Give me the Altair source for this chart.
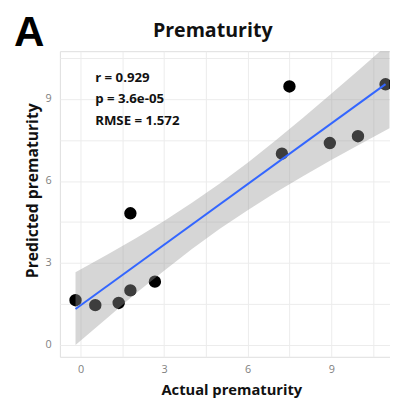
import altair as alt
import pandas as pd

# Data
actual = [-0.18, 0.53, 1.37, 1.79, 1.79, 2.67, 7.23, 7.50, 8.95, 9.96, 10.95]
predicted = [1.64, 1.46, 1.54, 2.00, 4.82, 2.32, 7.00, 9.46, 7.39, 7.64, 9.54]

band_x = [-0.18, 1, 2, 3, 4, 5, 6, 7, 8, 9, 10, 11.09]
band_lo = [0.00, 1.03, 1.90, 2.72, 3.51, 4.25, 4.93, 5.58, 6.18, 6.77, 7.33, 7.93]
band_hi = [2.66, 3.33, 3.92, 4.54, 5.21, 5.91, 6.67, 7.48, 8.32, 9.19, 10.07, 11.05]

stats_lines = ["r = 0.929", "p = 3.6e-05", "RMSE = 1.572"]
title_text = "Prematurity"
panel_letter = "A"
x_title = "Actual prematurity"
y_title = "Predicted prematurity"

pts = pd.DataFrame({"x": actual, "y": predicted})
band = pd.DataFrame({"x": band_x, "lo": band_lo, "hi": band_hi})

FONT = "Open Sans"
XDOM = [-0.74, 11.11]
YDOM = [-0.43, 10.75]
grid_vals = [0, 1.5, 3, 4.5, 6, 7.5, 9, 10.5]

xscale = alt.Scale(domain=XDOM, nice=False, zero=False)
yscale = alt.Scale(domain=YDOM, nice=False, zero=False)

xaxis = alt.Axis(
    values=grid_vals, labelExpr="datum.value % 3 == 0 ? datum.label : ''",
    grid=True, gridColor="#ececec", gridWidth=1, domain=False, ticks=False, tickSize=0,
    labelPadding=7, labelFontSize=11, labelColor="#808080", labelFont=FONT,
    title=x_title, titleFont=FONT, titleFontSize=15, titleFontWeight="bold", titleColor="#111111",
    titleX=175, titleY=33, titleBaseline="middle", titleAnchor="middle",
)
yaxis = alt.Axis(
    values=grid_vals, labelExpr="datum.value % 3 == 0 ? datum.label : ''",
    grid=True, gridColor="#ececec", gridWidth=1, domain=False, ticks=False, tickSize=0,
    labelPadding=9, labelFontSize=11, labelColor="#808080", labelFont=FONT,
    title=y_title, titleFont=FONT, titleFontSize=16, titleFontWeight="bold", titleColor="#111111",
    titleX=-28, titleY=142, titleBaseline="middle", titleAngle=270,
)

points = alt.Chart(pts).mark_circle(size=160, color="#000000", opacity=1).encode(
    x=alt.X("x:Q", scale=xscale, axis=xaxis),
    y=alt.Y("y:Q", scale=yscale, axis=yaxis),
)

ribbon = alt.Chart(band).mark_area(color="#999999", opacity=0.4, clip=True).encode(
    x=alt.X("x:Q", scale=xscale),
    y=alt.Y("lo:Q", scale=yscale),
    y2="hi:Q",
)

line = alt.Chart(pts).transform_regression(
    "x", "y", extent=[actual[0], actual[-1]]
).mark_line(color="#3366FF", strokeWidth=2).encode(
    x=alt.X("x:Q", scale=xscale),
    y=alt.Y("y:Q", scale=yscale),
)

stat_layers = []
for i, s in enumerate(stats_lines):
    stat_layers.append(
        alt.Chart(pd.DataFrame({"t": [s]})).mark_text(
            font=FONT, fontSize=13.5, fontWeight="bold", align="left", baseline="middle", color="#111111"
        ).encode(text="t:N", x=alt.value(36), y=alt.value(27 + 22 * i))
    )

title = alt.Chart(pd.DataFrame({"t": [title_text]})).mark_text(
    font=FONT, fontSize=20, fontWeight="bold", align="center", baseline="alphabetic", color="#111111"
).encode(text="t:N", x=alt.value(156), y=alt.value(-14))

letter = alt.Chart(pd.DataFrame({"t": [panel_letter]})).mark_text(
    font="Liberation Sans", fontSize=43, fontWeight="bold", align="left", baseline="alphabetic", color="#000000"
).encode(text="t:N", x=alt.value(-47), y=alt.value(-5))

chart = alt.layer(points, ribbon, line, *stat_layers, title, letter).properties(
    width=337, height=312,
    autosize=alt.AutoSizeParams(type="none"),
    padding={"left": 53, "top": 40, "right": 0, "bottom": 40},
).configure_view(stroke=None).configure(background="white")

chart.save("out.html", embed_options={"renderer": "svg", "actions": False})
